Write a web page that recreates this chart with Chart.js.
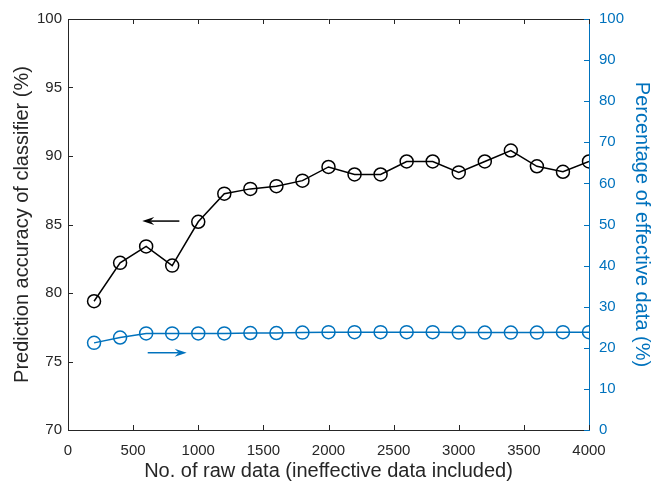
<!DOCTYPE html>
<html>
<head>
<meta charset="utf-8">
<script src="https://cdn.jsdelivr.net/npm/chart.js@4"></script>
<style>
  html, body { margin: 0; padding: 0; background: #fff; }
  #wrap { width: 656px; height: 483px; }
</style>
</head>
<body>
<div id="wrap"><canvas id="accuracy-chart" width="656" height="483"></canvas></div>
<script>
const rawData = [200, 400, 600, 800, 1000, 1200, 1400, 1600, 1800, 2000,
                 2200, 2400, 2600, 2800, 3000, 3200, 3400, 3600, 3800, 4000];
const accuracy = [79.4, 82.2, 83.4, 82.0, 85.2, 87.25, 87.6, 87.8, 88.2, 89.2,
                  88.65, 88.65, 89.6, 89.6, 88.8, 89.6, 90.4, 89.25, 88.85, 89.6];
const effective = [21.2, 22.5, 23.5, 23.5, 23.5, 23.5, 23.6, 23.6, 23.7, 23.8,
                   23.8, 23.8, 23.8, 23.8, 23.7, 23.7, 23.7, 23.7, 23.8, 23.8];
const xTicks = [0, 500, 1000, 1500, 2000, 2500, 3000, 3500, 4000];
const leftTicks = [70, 75, 80, 85, 90, 95, 100];
const rightTicks = [0, 10, 20, 30, 40, 50, 60, 70, 80, 90, 100];

const BLUE = '#0072BD';
const DARK = '#262626';
const FONT = 'Liberation Sans, Arial, sans-serif';

// arrows pointing to the axis each curve belongs to (data units)
const arrows = [
    { from: [855, 85.25], to: [570, 85.25], axis: 'y', color: '#000' },
    { from: [612, 18.8], to: [911, 18.8], axis: 'y1', color: BLUE }
];

const boxPlugin = {
    id: 'boxPlugin',
    afterDraw(chart) {
        const ctx = chart.ctx;
        const a = chart.chartArea;
        const x = chart.scales.x, y = chart.scales.y, y1 = chart.scales.y1;
        ctx.save();
        ctx.lineWidth = 1;
        // top border
        ctx.strokeStyle = DARK;
        ctx.beginPath();
        ctx.moveTo(a.left, a.top + 0.5);
        ctx.lineTo(a.right, a.top + 0.5);
        ctx.stroke();
        // inward ticks
        const len = 5;
        ctx.beginPath();
        xTicks.forEach(v => {
            const px = Math.round(x.getPixelForValue(v)) + 0.5;
            ctx.moveTo(px, a.bottom); ctx.lineTo(px, a.bottom - len);
            ctx.moveTo(px, a.top); ctx.lineTo(px, a.top + len);
        });
        leftTicks.forEach(v => {
            const py = Math.round(y.getPixelForValue(v)) + 0.5;
            ctx.moveTo(a.left, py); ctx.lineTo(a.left + len, py);
        });
        ctx.stroke();
        ctx.strokeStyle = BLUE;
        ctx.beginPath();
        rightTicks.forEach(v => {
            const py = Math.round(y1.getPixelForValue(v)) + 0.5;
            ctx.moveTo(a.right, py); ctx.lineTo(a.right - len, py);
        });
        ctx.stroke();
        // arrows
        arrows.forEach(ar => {
            const s = chart.scales[ar.axis];
            const x0 = x.getPixelForValue(ar.from[0]), y0 = s.getPixelForValue(ar.from[1]);
            const x1 = x.getPixelForValue(ar.to[0]), y1p = s.getPixelForValue(ar.to[1]);
            const dir = Math.sign(x1 - x0);
            ctx.strokeStyle = ar.color;
            ctx.fillStyle = ar.color;
            ctx.lineWidth = 1.5;
            ctx.beginPath();
            ctx.moveTo(x0, y0);
            ctx.lineTo(x1 - dir * 8, y1p);
            ctx.stroke();
            ctx.beginPath();
            ctx.moveTo(x1, y1p);
            ctx.lineTo(x1 - dir * 12, y1p - 4);
            ctx.lineTo(x1 - dir * 8, y1p);
            ctx.lineTo(x1 - dir * 12, y1p + 4);
            ctx.closePath();
            ctx.fill();
        });
        ctx.restore();
    }
};

new Chart(document.getElementById('accuracy-chart'), {
    type: 'line',
    data: {
        datasets: [{
            label: 'Prediction accuracy',
            data: rawData.map((v, i) => ({ x: v, y: accuracy[i] })),
            yAxisID: 'y',
            borderColor: '#000',
            backgroundColor: 'rgba(0,0,0,0)',
            borderWidth: 1.5,
            pointRadius: 6.5,
            pointBorderWidth: 1.5,
            pointStyle: 'circle'
        }, {
            label: 'Effective data',
            data: rawData.map((v, i) => ({ x: v, y: effective[i] })),
            yAxisID: 'y1',
            borderColor: BLUE,
            backgroundColor: 'rgba(0,0,0,0)',
            borderWidth: 1.5,
            pointRadius: 6.5,
            pointBorderWidth: 1.5,
            pointStyle: 'circle'
        }]
    },
    options: {
        responsive: false,
        animation: false,
        layout: { padding: { top: 18, left: 0, right: 0, bottom: 0 } },
        plugins: { legend: { display: false }, tooltip: { enabled: false } },
        scales: {
            x: {
                type: 'linear',
                min: 0, max: 4000,
                afterFit: s => { s.height = 53; },
                afterBuildTicks: s => { s.ticks = xTicks.map(v => ({ value: v })); },
                grid: { drawOnChartArea: false, drawTicks: false },
                border: { color: DARK, width: 1 },
                ticks: { color: DARK, padding: 12, font: { family: FONT, size: 15 }, maxRotation: 0,
                         callback: v => String(v) },
                title: { display: true, text: 'No. of raw data (ineffective data included)',
                         color: DARK, font: { family: FONT, size: 20 }, padding: { top: 0, bottom: 0 } }
            },
            y: {
                position: 'left',
                min: 70, max: 100,
                afterFit: s => { s.width = 68; },
                afterBuildTicks: s => { s.ticks = leftTicks.map(v => ({ value: v })); },
                grid: { drawOnChartArea: false, drawTicks: false },
                border: { color: DARK, width: 1 },
                ticks: { color: DARK, padding: 6, font: { family: FONT, size: 15 } },
                title: { display: true, text: 'Prediction accuracy of classifier (%)',
                         color: DARK, font: { family: FONT, size: 20 }, padding: { top: 10, bottom: 0 } }
            },
            y1: {
                position: 'right',
                min: 0, max: 100,
                afterFit: s => { s.width = 67; },
                afterBuildTicks: s => { s.ticks = rightTicks.map(v => ({ value: v })); },
                grid: { drawOnChartArea: false, drawTicks: false },
                border: { color: BLUE, width: 1 },
                ticks: { color: BLUE, padding: 10, font: { family: FONT, size: 15 } },
                title: { display: true, text: 'Percentage of effective data (%)',
                         color: BLUE, font: { family: FONT, size: 20 }, padding: { top: 2, bottom: 0 } }
            }
        }
    },
    plugins: [boxPlugin]
});
</script>
</body>
</html>
